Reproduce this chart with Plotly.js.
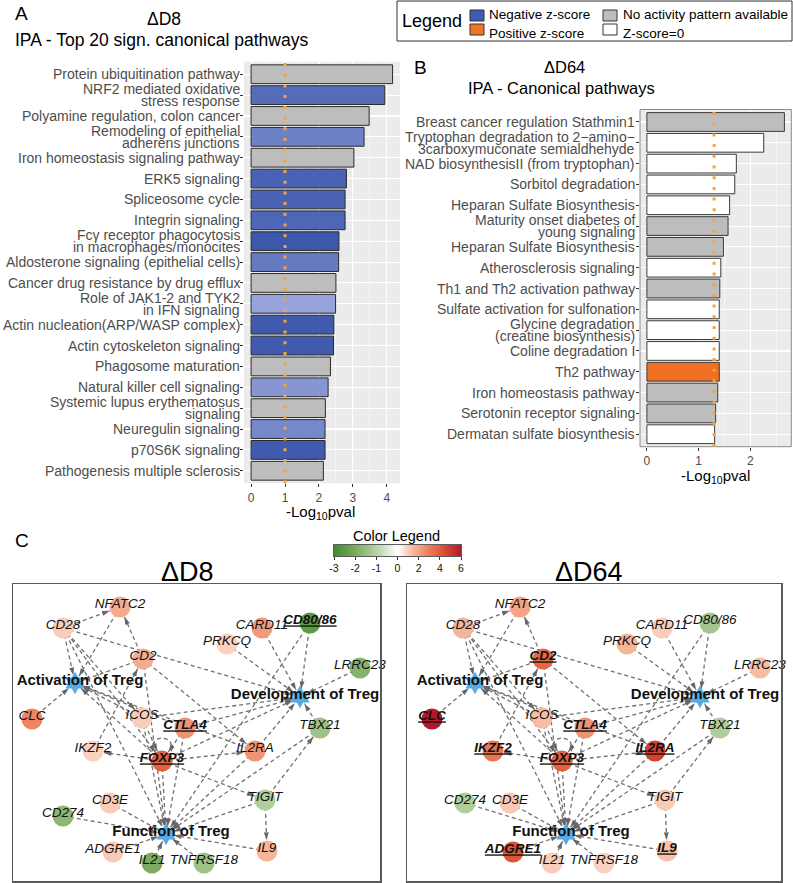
<!DOCTYPE html>
<html>
<head>
<meta charset="utf-8">
<script src="https://cdn.plot.ly/plotly-3.0.1.min.js"></script>
<style>
html,body{margin:0;padding:0;background:#fff;}
#chart{width:793px;height:883px;}
</style>
</head>
<body>
<div id="chart"></div>
<script>
const W = 793, H = 883;
const FONT = '"Liberation Sans", Arial, Helvetica, sans-serif';

// ---------------- Panel A data ----------------
const aLabels = [
  'Protein ubiquitination pathway',
  'NRF2 mediated oxidative<br>stress response',
  'Polyamine regulation, colon cancer',
  'Remodeling of epithelial<br>adherens junctions',
  'Iron homeostasis signaling pathway',
  'ERK5 signaling',
  'Spliceosome cycle',
  'Integrin signaling',
  'Fcγ receptor phagocytosis<br>in macrophages/monocites',
  'Aldosterone signaling (epithelial cells)',
  'Cancer drug resistance by drug efflux',
  'Role of JAK1-2 and TYK2<br>in IFN signaling',
  'Actin nucleation(ARP/WASP complex)',
  'Actin cytoskeleton signaling',
  'Phagosome maturation',
  'Natural killer cell signaling',
  'Systemic lupus erythematosus<br>signaling',
  'Neuregulin signaling',
  'p70S6K signaling',
  'Pathogenesis multiple sclerosis'
];
const aValues = [4.17, 3.94, 3.48, 3.33, 3.03, 2.81, 2.77, 2.77, 2.59, 2.58, 2.50, 2.49, 2.44, 2.43, 2.34, 2.27, 2.19, 2.18, 2.18, 2.13];
const aZscores = [null, -3.2, null, -2.6, null, -3.5, -3.5, -3.4, -3.8, -2.8, null, -1.6, -3.7, -3.7, null, -2.0, null, -2.4, -3.7, null];
const aThreshold = 1;

// ---------------- Panel B data ----------------
const bLabels = [
  'Breast cancer regulation Stathmin1',
  'Tryptophan degradation to 2\u2212amino\u2212<br>3carboxymuconate semialdhehyde',
  'NAD biosynthesisII (from tryptophan)',
  'Sorbitol degradation',
  'Heparan Sulfate Biosynthesis',
  'Maturity onset diabetes of<br>young signaling',
  'Heparan Sulfate Biosynthesis',
  'Atherosclerosis signaling',
  'Th1 and Th2 activation pathway',
  'Sulfate activation for sulfonation',
  'Glycine degradation<br>(creatine biosynthesis)',
  'Coline degradation I',
  'Th2 pathway',
  'Iron homeostasis pathway',
  'Serotonin receptor signaling',
  'Dermatan sulfate biosynthesis'
];
const bValues = [2.66, 2.26, 1.73, 1.70, 1.60, 1.57, 1.48, 1.43, 1.41, 1.40, 1.40, 1.40, 1.40, 1.37, 1.33, 1.31];
const bStatus = ['none','zero','zero','zero','zero','none','none','zero','none','zero','zero','zero','positive','none','none','zero'];
const bThreshold = 1.3;

// ---------------- Panel C data ----------------
const geneNames = ['NFATC2','CD28','CD2','CARD11','CD80/86','PRKCQ','LRRC23','CLC','ICOS','CTLA4','TBX21','IKZF2','FOXP3','IL2RA','TIGIT','CD3E','CD274','ADGRE1','IL21','TNFRSF18','IL9'];
const geneX = [107, 50, 130, 249, 297, 214, 347, 19, 129, 172, 307, 80, 149, 242, 252, 97, 50, 100, 139, 191, 254];
const geneY = [23, 44, 75, 44, 39, 60, 84, 135, 134, 144, 144, 167, 177, 167, 216, 219, 232, 268, 279, 279, 267];
const geneMovedD64 = {'CD274': [52, 219]};
const funcNames = ['Activation of Treg','Development of Treg','Function of Treg'];
const funcX = [62, 287, 153];
const funcY = [99, 113, 250];
const d8Values  = [1.8, 1.0, 1.8, 2.2, -2.5, 0.9, -1.8, 2.8, 1.0, 2.4, -1.4, 0.9, 3.8, 2.4, -1.1, 1.0, -1.7, 1.1, -2.0, -1.4, 1.6];
const d64Values = [2.0, 1.6, 3.6, 1.0, -1.3, 1.6, 1.4, 6.0, 1.4, 2.4, -1.1, 3.2, 3.8, 4.8, 1.1, 1.1, -1.1, 4.2, 1.0, 0.9, 1.3];
const d8Underlined  = ['CD80/86','CTLA4','FOXP3'];
const d64Underlined = ['CD2','CLC','IKZF2','CTLA4','FOXP3','IL2RA','ADGRE1','IL9'];
const edges = [
  ['CD28','NFATC2'], ['CD2','NFATC2'], ['CD28','Activation of Treg'], ['NFATC2','Activation of Treg'],
  ['CD2','Activation of Treg'], ['CLC','Activation of Treg'], ['CD28','Development of Treg'],
  ['CD28','FOXP3'], ['CD28','Function of Treg'], ['CD28','ICOS'], ['CD2','IL2RA'], ['IKZF2','CD2'],
  ['CARD11','Development of Treg'], ['PRKCQ','Development of Treg'], ['CD80/86','Development of Treg'],
  ['CD80/86','Function of Treg'], ['LRRC23','Development of Treg'], ['TBX21','Development of Treg'],
  ['ICOS','Development of Treg'], ['ICOS','FOXP3'], ['ICOS','Activation of Treg'],
  ['CTLA4','Development of Treg'], ['CTLA4','FOXP3'], ['CTLA4','Activation of Treg'], ['CTLA4','Function of Treg'],
  ['FOXP3','IKZF2'], ['FOXP3','IL2RA'], ['FOXP3','Development of Treg'], ['FOXP3','Function of Treg'],
  ['FOXP3','Activation of Treg'], ['FOXP3','TIGIT'], ['FOXP3','FOXP3'],
  ['IL2RA','Development of Treg'], ['IL2RA','Function of Treg'], ['IL2RA','Activation of Treg'],
  ['TIGIT','TBX21'], ['TIGIT','IL9'], ['TIGIT','Function of Treg'], ['TBX21','Function of Treg'],
  ['CD3E','Function of Treg'], ['CD274','Function of Treg'], ['ADGRE1','Function of Treg'],
  ['IL21','Function of Treg'], ['TNFRSF18','Function of Treg'], ['IL9','Function of Treg'],
  ['ICOS','Function of Treg'], ['CD2','Function of Treg']
];
const colorLegendTicks = [-3, -2, -1, 0, 2, 4, 6];

// ---------------- helpers ----------------
const px = v => v / W;
const py = v => 1 - v / H;
const netColorscale = [
  [0, '#3e8c2c'], [1/9, '#7aab5e'], [2/9, '#b5d2a3'], [3/9, '#ffffff'],
  [4/9, '#f9cdb9'], [5/9, '#f4a384'], [6/9, '#ec7c58'], [7/9, '#e05a3a'],
  [8/9, '#cf3a2f'], [1, '#b3172b']
];

const traces = [];
const annotations = [];
const shapes = [];

// ---------------- Panel A bars ----------------
const idxA = aLabels.map((_, i) => i);
const aGray = idxA.filter(i => aZscores[i] === null);
const aBlue = idxA.filter(i => aZscores[i] !== null);
traces.push({type:'bar', orientation:'h', x:aGray.map(i => aValues[i]), y:aGray, width:0.9,
  marker:{color:'#bdbdbd', line:{color:'#2b2b2b', width:1}}, xaxis:'x', yaxis:'y', hoverinfo:'skip'});
traces.push({type:'bar', orientation:'h', x:aBlue.map(i => aValues[i]), y:aBlue, width:0.9,
  marker:{color:aBlue.map(i => aZscores[i]), colorscale:[[0,'#3451a8'],[1,'#b0b8e8']], cmin:-4, cmax:-1,
  line:{color:'#2b2b2b', width:1}}, xaxis:'x', yaxis:'y', hoverinfo:'skip'});

// ---------------- Panel B bars ----------------
const bFill = {none:'#bdbdbd', zero:'#ffffff', positive:'#f07022'};
traces.push({type:'bar', orientation:'h', x:bValues, y:bLabels.map((_, i) => i), width:0.9,
  marker:{color:bStatus.map(s => bFill[s]), line:{color:'#3a3a3a', width:1}}, xaxis:'x2', yaxis:'y2', hoverinfo:'skip'});

// tick label annotations (multi-line with tight spacing)
function tickAnnots(labels, yref, xRight) {
  labels.forEach((lab, i) => {
    const lines = lab.split('<br>');
    lines.forEach((ln, j) => {
      annotations.push({xref:'paper', yref:yref, x:px(xRight), y:i, xanchor:'right', yanchor:'middle',
        text:ln, showarrow:false, borderpad:0, yshift:-(j - (lines.length - 1) / 2) * 12.4,
        font:{family:FONT, size:14, color:'#4d4d4d'}});
    });
  });
}
tickAnnots(aLabels, 'y', 240.5);
tickAnnots(bLabels, 'y2', 636);

// panel backgrounds and threshold lines
shapes.push({type:'rect', xref:'x domain', yref:'y domain', x0:0, x1:1, y0:0, y1:1, fillcolor:'#ebebeb', line:{width:0}, layer:'below'});
shapes.push({type:'rect', xref:'x2 domain', yref:'y2 domain', x0:0, x1:1, y0:0, y1:1, fillcolor:'#ebebeb', line:{width:0}, layer:'below'});
shapes.push({type:'rect', xref:'x2 domain', yref:'y2 domain', x0:0, x1:1, y0:0, y1:1, fillcolor:'rgba(0,0,0,0)', line:{width:1, color:'#8a8a8a'}, layer:'above'});
shapes.push({type:'line', xref:'x', yref:'y domain', x0:aThreshold, x1:aThreshold, y0:0, y1:1, line:{color:'#f3a43c', width:3, dash:'3px,7.7px'}, layer:'above'});
shapes.push({type:'line', xref:'x2', yref:'y2 domain', x0:bThreshold, x1:bThreshold, y0:0, y1:1, line:{color:'#f3a43c', width:3, dash:'3px,7.7px'}, layer:'above'});

// ---------------- Panel C networks ----------------
function buildNetwork(xa, ya, values, underlined, moved) {
  const pos = {};
  geneNames.forEach((n, i) => { pos[n] = moved[n] ? moved[n] : [geneX[i], geneY[i]]; });
  funcNames.forEach((n, i) => { pos[n] = [funcX[i], funcY[i]]; });
  const lx = [], ly = [], ax = [], ay = [], ang = [];
  edges.forEach(([s, t]) => {
    const p = pos[s], q = pos[t];
    if (s === t) {
      const cx = p[0], cy = p[1] - 13, r = 10;
      for (let k = 0; k <= 24; k++) {
        const a = (200 - k * 220 / 24) * Math.PI / 180;
        lx.push(cx + r * Math.cos(a)); ly.push(cy - r * Math.sin(a));
      }
      lx.push(null); ly.push(null);
      return;
    }
    const dx = q[0] - p[0], dy = q[1] - p[1], L = Math.hypot(dx, dy);
    const rt = funcNames.includes(t) ? 8 : 11;
    const ex = q[0] - dx / L * rt, ey = q[1] - dy / L * rt;
    lx.push(p[0], ex, null); ly.push(p[1], ey, null);
    ax.push(ex); ay.push(ey); ang.push(Math.atan2(dx, -dy) * 180 / Math.PI);
  });
  traces.push({type:'scatter', mode:'lines', x:lx, y:ly, xaxis:xa, yaxis:ya,
    line:{color:'#707070', width:1.3, dash:'4px,3px'}, hoverinfo:'skip'});
  traces.push({type:'scatter', mode:'markers', x:ax, y:ay, xaxis:xa, yaxis:ya,
    marker:{symbol:'arrow', size:8, angle:ang, color:'#666666'}, hoverinfo:'skip'});
  traces.push({type:'scatter', mode:'markers', x:geneNames.map(n => pos[n][0]), y:geneNames.map(n => pos[n][1]),
    xaxis:xa, yaxis:ya, marker:{size:21, color:values, colorscale:netColorscale, cmin:-3, cmax:6, line:{width:0}, showscale:false}, hoverinfo:'skip'});
  traces.push({type:'scatter', mode:'markers', x:funcX, y:funcY, xaxis:xa, yaxis:ya,
    marker:{symbol:'hexagram', size:17, color:'#56aae6', line:{width:0}}, hoverinfo:'skip'});
  traces.push({type:'scatter', mode:'markers', x:funcX, y:funcY, xaxis:xa, yaxis:ya,
    marker:{symbol:'circle', size:11, color:'#56aae6', line:{width:0}}, hoverinfo:'skip'});
  traces.push({type:'scatter', mode:'text', x:geneNames.map(n => pos[n][0]), y:geneNames.map(n => pos[n][1] - 2),
    xaxis:xa, yaxis:ya, textposition:'middle center',
    text:geneNames.map(n => underlined.includes(n) ? '<b><i><u>' + n + '</u></i></b>' : '<i>' + n + '</i>'),
    textfont:{family:FONT, size:13.5, color:'#111'}, hoverinfo:'skip', cliponaxis:false});
  traces.push({type:'scatter', mode:'text', x:funcX.map(v => v + 5), y:funcY.map(v => v - 2), xaxis:xa, yaxis:ya,
    textposition:'middle center', text:funcNames.map(n => '<b>' + n + '</b>'),
    textfont:{family:FONT, size:15, color:'#111'}, hoverinfo:'skip', cliponaxis:false});
}
buildNetwork('x3', 'y3', d8Values, d8Underlined, {});
buildNetwork('x4', 'y4', d64Values, d64Underlined, geneMovedD64);

// colour legend gradient
const nCells = 120;
const legX = [], legZ = [];
for (let k = 0; k < nCells; k++) {
  const t = (k + 0.5) * (colorLegendTicks.length - 1) / nCells;
  const f = Math.floor(t), fr = t - f;
  legX.push(t);
  legZ.push(colorLegendTicks[f] + fr * (colorLegendTicks[f + 1] - colorLegendTicks[f]));
}
traces.push({type:'heatmap', x:legX, y:[0.5], z:[legZ], colorscale:netColorscale, zmin:-3, zmax:6,
  showscale:false, xaxis:'x5', yaxis:'y5', hoverinfo:'skip'});

// ---------------- text annotations ----------------
function ann(text, x, y, size, opts) {
  annotations.push(Object.assign({xref:'paper', yref:'paper', x:px(x), y:py(y), text:text, showarrow:false,
    xanchor:'center', yanchor:'middle', font:{family:FONT, size:size, color:'#000'}}, opts || {}));
}
ann('A', 13, 14, 19, {xanchor:'left'});
ann('\u0394D8', 164, 19, 17.5);
ann('IPA - Top 20 sign. canonical pathways', 161, 40, 17.5);
ann('B', 412, 67, 19, {xanchor:'left'});
ann('\u0394D64', 564, 67, 16.5);
ann('IPA - Canonical pathways', 561, 88, 16.5);
ann('-Log<sub>10</sub>pval', 320, 512, 15);
ann('-Log<sub>10</sub>pval', 715, 476, 15);
ann('Legend', 400, 21, 18, {xanchor:'left'});
ann('Negative z-score', 487, 15, 13.5, {xanchor:'left'});
ann('Positive z-score', 487, 33, 13.5, {xanchor:'left'});
ann('No activity pattern available', 621, 15, 13.5, {xanchor:'left'});
ann('Z-score=0', 621, 33, 13.5, {xanchor:'left'});
ann('C', 13, 540, 19, {xanchor:'left'});
ann('Color Legend', 396, 536, 14.5);
ann('\u0394D8', 187, 572, 27);
ann('\u0394D64', 589, 572, 27);

// legend box & swatches
shapes.push({type:'rect', xref:'paper', yref:'paper', x0:px(397), x1:px(792), y0:py(1), y1:py(41), line:{color:'#333', width:1}, fillcolor:'rgba(0,0,0,0)'});
function swatch(x0, y0, color) {
  shapes.push({type:'rect', xref:'paper', yref:'paper', x0:px(x0), x1:px(x0 + 14), y0:py(y0), y1:py(y0 + 11), fillcolor:color, line:{color:'#333', width:1}});
}
swatch(470, 10, '#3f5bb2');
swatch(470, 24, '#f07424');
swatch(603, 10, '#bdbdbd');
swatch(603, 24, '#ffffff');

const axisFont = {family:FONT, size:12, color:'#4d4d4d'};
const hiddenAxis = {showgrid:false, zeroline:false, showticklabels:false, ticks:'', showline:true, mirror:true, linecolor:'#5a5a5a', linewidth:1.5, fixedrange:true};

const layout = {
  width:W, height:H, margin:{l:0, r:0, t:0, b:0}, showlegend:false, barmode:'overlay',
  paper_bgcolor:'#fff', plot_bgcolor:'rgba(0,0,0,0)', font:{family:FONT},
  xaxis:{domain:[px(244), px(400)], range:[-0.209, 4.389], tick0:0, dtick:1, ticks:'outside', ticklen:3, tickcolor:'#333',
    tickfont:axisFont, showgrid:true, gridcolor:'#fff', gridwidth:1.1,
    minor:{dtick:0.5, showgrid:true, gridcolor:'#fff', gridwidth:0.5}, zeroline:false, showline:false, anchor:'y'},
  yaxis:{domain:[py(483.3), py(61.7)], range:[19.6, -0.6], tick0:0, dtick:1, ticks:'outside', ticklen:3, tickcolor:'#333',
    showticklabels:false, showgrid:true, gridcolor:'#fff', gridwidth:1.1, zeroline:false, anchor:'x'},
  xaxis2:{domain:[px(640), px(791.3)], range:[-0.133, 2.793], tick0:0, dtick:1, ticks:'outside', ticklen:3, tickcolor:'#333',
    tickfont:axisFont, showgrid:true, gridcolor:'#fff', gridwidth:1.1,
    minor:{dtick:0.5, showgrid:true, gridcolor:'#fff', gridwidth:0.5}, zeroline:false, showline:false, anchor:'y2'},
  yaxis2:{domain:[py(446.7), py(109.5)], range:[15.6, -0.6], tick0:0, dtick:1, ticks:'outside', ticklen:3, tickcolor:'#333',
    showticklabels:false, showgrid:true, gridcolor:'#fff', gridwidth:1.1, zeroline:false, anchor:'x2'},
  xaxis3:Object.assign({domain:[px(13), px(380)], range:[0, 367], anchor:'y3'}, hiddenAxis),
  yaxis3:Object.assign({domain:[py(881), py(584)], range:[297, 0], anchor:'x3'}, hiddenAxis),
  xaxis4:Object.assign({domain:[px(407), px(781)], range:[-6, 368], anchor:'y4'}, hiddenAxis),
  yaxis4:Object.assign({domain:[py(881), py(584)], range:[297, 0], anchor:'x4'}, hiddenAxis),
  xaxis5:{domain:[px(334), px(461)], range:[0, colorLegendTicks.length - 1], tickvals:colorLegendTicks.map((_, i) => i),
    ticktext:colorLegendTicks.map(String), ticks:'outside', ticklen:3, tickcolor:'#333',
    tickfont:{family:FONT, size:10.5, color:'#111'}, showgrid:false, zeroline:false, showline:true, mirror:true,
    linecolor:'#333', linewidth:0.8, anchor:'y5'},
  yaxis5:{domain:[py(556), py(545)], range:[0, 1], showticklabels:false, ticks:'', showgrid:false, zeroline:false,
    showline:true, mirror:true, linecolor:'#333', linewidth:0.8, anchor:'x5'},
  shapes:shapes, annotations:annotations
};

Plotly.newPlot('chart', traces, layout, {displayModeBar:false, staticPlot:true});
</script>
</body>
</html>
